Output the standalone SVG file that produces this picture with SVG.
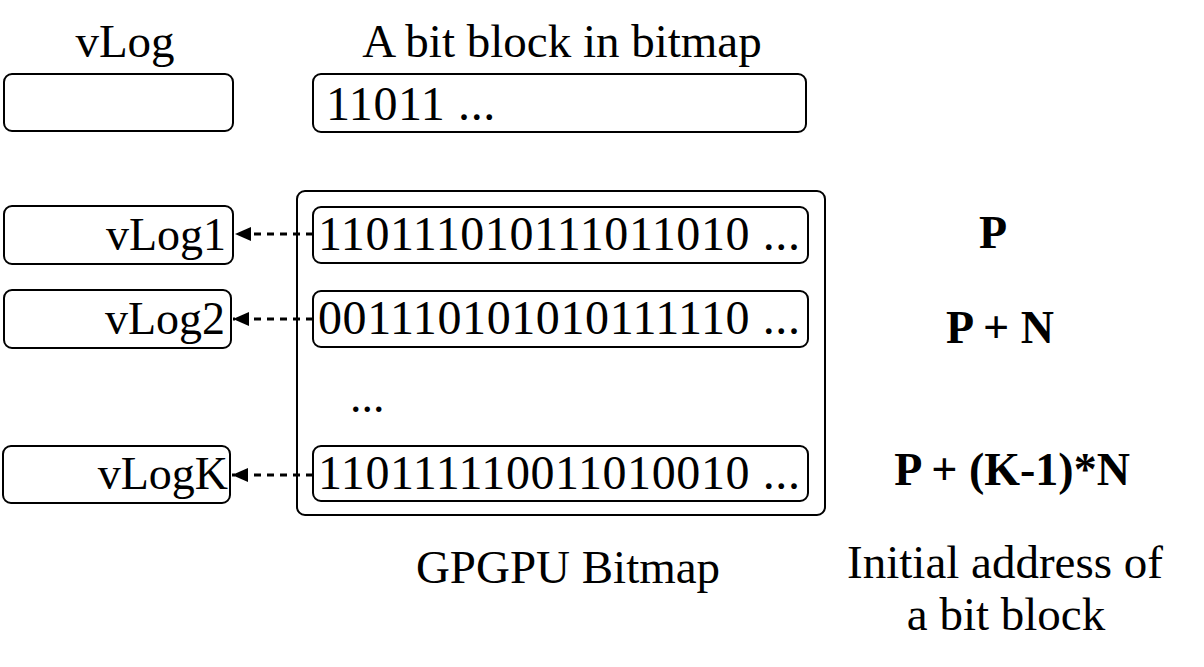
<svg xmlns="http://www.w3.org/2000/svg" width="1204" height="667" viewBox="0 0 1204 667">
<style>
text{font-family:"Liberation Serif","Times New Roman",serif;fill:#000;font-size:46px}
.big{font-size:47px}
.row{font-size:48px;letter-spacing:0.6px}
.b{font-weight:bold}
.box{fill:#fff;stroke:#000;stroke-width:2}
.conn{stroke:#000;stroke-width:3;stroke-dasharray:7,6;fill:none}
</style>
<defs>
<marker id="ah" markerWidth="18" markerHeight="16" refX="16" refY="8" orient="auto" markerUnits="userSpaceOnUse">
<path d="M0,1 L16,8 L0,15 Z" fill="#000"/>
</marker>
</defs>
<rect width="1204" height="667" fill="#fff"/>
<text class="big" x="125" y="57" text-anchor="middle">vLog</text>
<text class="big" x="562" y="57" text-anchor="middle">A bit block in bitmap</text>
<g id="vlog-legend"><rect class="box" x="4" y="74" width="229" height="57" rx="8"/></g>
<g id="bitblock-legend"><rect class="box" x="313" y="74" width="493" height="58" rx="8"/><text class="row" x="326" y="120">11011 ...</text></g>
<g id="gpgpu-bitmap">
<rect class="box" x="297" y="191" width="528" height="324" rx="8"/>
<text x="350" y="412">...</text>
</g>
<g id="row1"><rect class="box" x="313" y="207" width="495" height="56" rx="8"/><text class="row" x="318" y="250">110111010111011010 ...</text></g>
<g id="row2"><rect class="box" x="313" y="291" width="495" height="56" rx="8"/><text class="row" x="318" y="334">001110101010111110 ...</text></g>
<g id="rowK"><rect class="box" x="313" y="446" width="495" height="55" rx="8"/><text class="row" x="318" y="489">110111110011010010 ...</text></g>
<g id="vlog1"><rect class="box" x="4" y="206" width="229" height="58" rx="8"/><text x="226" y="250" text-anchor="end">vLog1</text></g>
<g id="vlog2"><rect class="box" x="4" y="290" width="227" height="58" rx="8"/><text x="225" y="334" text-anchor="end">vLog2</text></g>
<g id="vlogK"><rect class="box" x="3" y="446" width="227" height="57" rx="8"/><text x="228" y="489" text-anchor="end">vLogK</text></g>
<g id="connectors">
<line class="conn" x1="313" y1="234" x2="235" y2="234" marker-end="url(#ah)"/>
<line class="conn" x1="313" y1="319" x2="233" y2="319" marker-end="url(#ah)"/>
<line class="conn" x1="313" y1="475" x2="232" y2="475" marker-end="url(#ah)"/>
</g>
<g id="addresses">
<text class="b" x="993" y="248" text-anchor="middle">P</text>
<text class="b" x="1000" y="343" text-anchor="middle">P + N</text>
<text class="b" x="1012" y="485" text-anchor="middle">P + (K-1)*N</text>
</g>
<text class="big" x="568" y="583" text-anchor="middle">GPGPU Bitmap</text>
<text class="big" x="1005" y="578" text-anchor="middle">Initial address of</text>
<text class="big" x="1006" y="630" text-anchor="middle">a bit block</text>
</svg>
